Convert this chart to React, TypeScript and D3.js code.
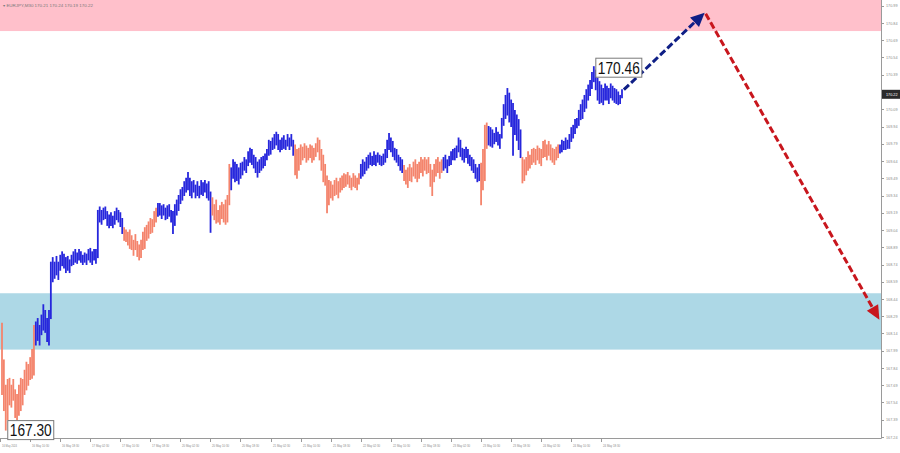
import React from "react";
import * as d3 from "d3";

// ---------- DATA (EURJPY, M30) ----------
const highs = [
  168.23,167.91,167.69,167.74,167.75,167.69,167.74,167.65,167.61,167.69,167.75,167.74,167.82,167.89,167.87,167.93,168.00,168.21,
  168.24,168.27,168.21,168.30,168.39,168.34,168.27,168.34,
  168.76,168.80,168.76,168.81,168.76,168.82,168.85,168.83,168.80,168.81,168.78,168.82,168.85,168.87,168.84,168.87,168.85,168.82,168.84,168.83,168.87,168.88,168.85,168.87,168.87,
  169.21,169.24,169.21,169.23,169.24,169.20,169.17,169.19,169.16,169.20,169.23,169.21,169.19,169.14,
  169.06,169.04,169.02,169.04,168.99,168.95,169.00,168.94,168.91,168.95,169.02,169.06,169.08,169.11,169.14,169.13,169.20,169.23,
  169.27,169.27,169.25,169.26,169.23,169.25,169.26,169.21,169.20,169.26,169.30,169.34,169.39,169.41,169.46,169.49,169.54,169.49,169.46,169.47,169.43,169.46,169.42,169.47,169.45,169.47,169.44,169.46,169.37,
  169.32,169.26,169.30,169.21,169.25,169.28,169.26,169.30,169.34,169.61,
  169.58,169.65,169.63,169.61,169.58,169.62,169.63,169.67,169.65,169.72,169.75,169.74,169.69,169.67,169.63,169.65,169.67,169.68,169.70,169.74,169.82,169.81,169.84,169.87,169.89,169.87,169.82,169.84,169.86,169.82,169.87,169.84,169.87,169.82,
  169.78,169.74,169.75,169.78,169.76,169.79,169.77,169.75,169.78,169.77,169.75,169.79,169.84,169.82,169.74,169.69,169.61,169.51,169.47,169.46,169.43,169.47,169.49,169.46,169.49,169.51,169.53,169.52,169.54,169.51,169.49,169.53,169.51,169.49,169.53,
  169.61,169.65,169.63,169.67,169.69,169.71,169.68,169.72,169.69,169.71,169.69,169.68,169.70,169.74,169.82,169.88,169.84,169.81,169.75,169.74,169.69,169.67,169.65,
  169.60,169.56,169.58,169.61,169.58,169.63,169.65,169.61,169.63,169.67,169.65,169.67,169.65,169.67,169.61,169.56,169.61,169.65,169.67,169.63,169.65,
  169.67,169.69,169.65,169.68,169.72,169.74,169.75,169.77,169.84,169.82,169.75,169.74,169.76,169.74,169.69,169.67,169.65,169.61,169.58,169.61,
  169.62,169.74,169.95,169.97,
  169.94,169.93,169.91,169.88,169.93,169.89,169.87,170.01,170.13,170.21,170.27,170.23,170.17,170.14,170.08,170.04,170.00,169.91,
  169.67,169.65,169.67,169.72,169.69,169.74,169.75,169.74,169.77,169.75,169.74,169.81,169.82,169.78,169.81,169.78,169.75,169.74,169.76,169.78,
  169.78,169.82,169.81,169.84,169.82,169.87,169.93,169.95,170.00,170.01,170.08,170.13,170.17,170.21,170.26,170.30,170.34,170.41,170.46,170.43,170.36,170.33,170.30,170.27,170.31,170.29,170.27,170.31,170.29,170.27,170.26,170.24,170.21,170.26,
];

const lows = [
  167.61,167.47,167.30,167.39,167.52,167.50,167.56,167.41,167.39,167.43,167.47,167.52,167.61,167.65,167.69,167.74,167.75,167.78,
  168.04,168.08,168.04,168.13,168.17,168.15,168.07,168.04,
  168.27,168.59,168.62,168.65,168.61,168.69,168.73,168.71,168.67,168.69,168.67,168.73,168.74,168.76,168.75,168.78,168.76,168.74,168.76,168.74,168.78,168.76,168.74,168.78,168.75,
  168.80,169.11,169.09,169.13,169.14,169.08,169.06,169.08,169.06,169.09,169.13,169.11,169.07,169.01,
  168.95,168.94,168.91,168.88,168.87,168.82,168.87,168.81,168.78,168.80,168.87,168.88,168.95,168.97,169.01,169.02,169.07,169.11,
  169.16,169.17,169.14,169.17,169.13,169.14,169.16,169.11,169.01,169.08,169.17,169.21,169.27,169.30,169.34,169.37,169.39,169.34,169.32,169.37,169.32,169.34,169.32,169.35,169.34,169.37,169.32,169.30,169.02,
  169.17,169.13,169.10,169.11,169.09,169.14,169.11,169.09,169.11,169.26,
  169.39,169.49,169.46,169.47,169.44,169.49,169.52,169.56,169.54,169.60,169.63,169.61,169.58,169.54,169.50,169.54,169.56,169.58,169.60,169.65,169.69,169.70,169.74,169.75,169.78,169.74,169.72,169.74,169.75,169.74,169.77,169.74,169.77,169.69,
  169.52,169.49,169.56,169.61,169.65,169.67,169.63,169.65,169.67,169.63,169.65,169.68,169.72,169.65,169.56,169.46,169.43,169.19,169.26,169.32,169.30,169.34,169.35,169.32,169.37,169.39,169.41,169.42,169.44,169.41,169.39,169.42,169.41,169.39,169.44,
  169.49,169.51,169.53,169.56,169.58,169.61,169.60,169.61,169.60,169.63,169.61,169.60,169.61,169.63,169.67,169.74,169.72,169.68,169.65,169.63,169.60,169.56,169.54,
  169.47,169.44,169.41,169.47,169.46,169.51,169.49,169.46,169.49,169.54,169.51,169.56,169.53,169.54,169.42,169.34,169.46,169.51,169.54,169.49,169.54,
  169.56,169.58,169.54,169.60,169.61,169.65,169.65,169.67,169.72,169.68,169.65,169.63,169.67,169.62,169.60,169.56,169.54,169.49,169.46,169.47,
  169.26,169.39,169.47,169.75,
  169.78,169.77,169.76,169.79,169.81,169.78,169.75,169.84,169.95,170.01,170.04,169.98,169.94,169.69,169.87,169.82,169.74,169.67,
  169.45,169.47,169.52,169.56,169.58,169.61,169.63,169.61,169.65,169.62,169.60,169.67,169.68,169.65,169.69,169.65,169.63,169.61,169.65,169.67,
  169.71,169.72,169.74,169.74,169.75,169.75,169.81,169.84,169.88,169.93,169.95,170.00,170.01,170.07,170.10,170.17,170.21,170.27,170.33,170.26,170.17,170.14,170.15,170.13,170.17,170.17,170.14,170.19,170.17,170.15,170.14,170.13,170.14,170.19,
];

// wave colouring: segment start bar index and colour
const segStarts = [0, 18, 65, 83, 112, 122, 156, 191, 214, 235, 255, 259, 277, 297];
const segColors = ["#f4846c", "#2626dc", "#f4846c", "#2626dc", "#f4846c", "#2626dc", "#f4846c", "#2626dc", "#f4846c", "#2626dc", "#f4846c", "#2626dc", "#f4846c", "#2626dc"];

const xTickLabels = [
  "16 May 2024", "16 May 10:30", "16 May 18:30", "17 May 02:30", "17 May 10:30", "17 May 18:30",
  "20 May 02:30", "20 May 10:30", "20 May 18:30", "21 May 02:30", "21 May 10:30", "21 May 18:30",
  "22 May 02:30", "22 May 10:30", "22 May 18:30", "23 May 02:30", "23 May 10:30", "23 May 18:30",
  "24 May 02:30", "24 May 10:30", "24 May 18:30",
];
const barsPerTick = 16;

const yTickValues = d3.range(0, 26).map((k) => 167.24 + k * 0.15);

const resistanceZone = [170.77, 171.2];
const supportZone = [168.0, 168.49];

// forecast path: [bar index, price]
const forecastIdx = [331, 374, 467];
const forecastPrice = [170.26, 170.93, 168.26];

const lastPrice = 170.22;
const headerText = "\u25BE EURJPY,M30  170.21 170.24 170.19 170.22";

// ---------- LAYOUT ----------
const W = 900;
const H = 453;
const plotRight = 881;
const plotBottom = 438;

export default function App() {
  const x = d3.scaleLinear().domain([0, 330]).range([2, 622]);
  const y = d3.scaleLinear().domain([167.24, 170.99]).range([437, 5.75]);

  const colorAt = (i: number) => {
    let c = segColors[0];
    for (let k = 0; k < segStarts.length; k++) if (i >= segStarts[k]) c = segColors[k];
    return c;
  };

  const n = Math.min(highs.length, lows.length);
  const bars = d3.range(n).map((i) => ({ i, h: highs[i], l: lows[i] }));

  const peakIdx = d3.maxIndex(highs);
  const lowIdx = d3.minIndex(lows);

  const arrow = (x1: number, y1: number, x2: number, y2: number, color: string, key: string) => {
    const ang = Math.atan2(y2 - y1, x2 - x1);
    const len = 14;
    const hw = 6.5;
    const bx = x2 - len * Math.cos(ang);
    const by = y2 - len * Math.sin(ang);
    const px = -Math.sin(ang) * hw;
    const py = Math.cos(ang) * hw;
    const pts = `${x2},${y2} ${bx + px},${by + py} ${bx - px},${by - py}`;
    return (
      <g key={key}>
        <line x1={x1} y1={y1} x2={bx} y2={by} stroke={color} strokeWidth={3} strokeDasharray="7,3" />
        <polygon points={pts} fill={color} />
      </g>
    );
  };

  const fx = forecastIdx.map((v) => x(v));
  const fy = forecastPrice.map((v) => y(v));

  const labelBox = (cx: number, cy: number, text: string, key: string) => (
    <g key={key}>
      <rect x={cx} y={cy - 9.5} width={46} height={19} fill="#fff" stroke="#7a7a7a" strokeWidth={1} />
      <text x={cx + 2} y={cy + 6} fontSize={17} fontFamily="Liberation Sans, Arial, sans-serif" fill="#111" textLength={42} lengthAdjust="spacingAndGlyphs">
        {text}
      </text>
    </g>
  );

  const yLast = y(lastPrice);

  return (
    <svg width={W} height={H} style={{ position: "absolute", left: 0, top: 0, background: "#fff" }} fontFamily="Liberation Sans, Arial, sans-serif">
      <defs>
        <clipPath id="plot">
          <rect x={0} y={0} width={plotRight} height={plotBottom} />
        </clipPath>
      </defs>
      <rect x={0} y={0} width={W} height={H} fill="#fff" />
      <g clipPath="url(#plot)">
        <rect x={0} y={y(resistanceZone[1])} width={plotRight} height={y(resistanceZone[0]) - y(resistanceZone[1])} fill="#ffc0cb" />
        <rect x={0} y={y(supportZone[1])} width={plotRight} height={y(supportZone[0]) - y(supportZone[1])} fill="#add8e6" />
        {bars.map((b) => (
          <line key={b.i} x1={x(b.i)} x2={x(b.i)} y1={y(b.h) - 0.5} y2={y(b.l) + 0.5} stroke={colorAt(b.i)} strokeWidth={1.8} />
        ))}
        {arrow(fx[0], fy[0], fx[1], fy[1], "#0f1f86", "a1")}
        {arrow(fx[1] + 1, fy[1] + 1, fx[2], fy[2], "#c8161d", "a2")}
      </g>

      {/* axes */}
      <line x1={plotRight + 0.5} x2={plotRight + 0.5} y1={0} y2={plotBottom + 0.5} stroke="#9a9a9a" strokeWidth={1} />
      <line x1={0} x2={plotRight + 0.5} y1={plotBottom + 0.5} y2={plotBottom + 0.5} stroke="#9a9a9a" strokeWidth={1} />
      {yTickValues.map((v, k) => {
        const yy = y(v);
        const hidden = Math.abs(yy - yLast) < 7;
        return (
          <g key={"yt" + k}>
            <line x1={plotRight} x2={plotRight + 3} y1={Math.round(yy) + 0.5} y2={Math.round(yy) + 0.5} stroke="#9a9a9a" />
            {!hidden && (
              <text x={plotRight + 5} y={yy + 1.5} fontSize={4.2} fill="#8a8a8a" textLength={11.5} lengthAdjust="spacingAndGlyphs">
                {v.toFixed(2)}
              </text>
            )}
          </g>
        );
      })}
      <rect x={plotRight + 1} y={yLast - 4.5} width={W - plotRight - 1} height={9} fill="#2b2b2b" />
      <text x={plotRight + 5} y={yLast + 1.5} fontSize={4.2} fill="#fff" textLength={11.5} lengthAdjust="spacingAndGlyphs">
        {lastPrice.toFixed(2)}
      </text>

      {xTickLabels.map((t, k) => {
        const xx = Math.round(x(k * barsPerTick)) - 1.5;
        return (
          <g key={"xt" + k}>
            <line x1={xx} x2={xx} y1={plotBottom} y2={plotBottom + 4} stroke="#9a9a9a" />
            <text x={xx + 1.5} y={plotBottom + 9} fontSize={4.2} fill="#8a8a8a" textLength={k === 0 ? 15 : 17} lengthAdjust="spacingAndGlyphs">
              {t}
            </text>
          </g>
        );
      })}

      <text x={3} y={7} fontSize={4.2} fill="#7a7a7a" textLength={90} lengthAdjust="spacingAndGlyphs">
        {headerText}
      </text>

      {labelBox(x(peakIdx) + 2, y(highs[peakIdx]) + 1, highs[peakIdx].toFixed(2), "lbPeak")}
      {labelBox(x(lowIdx) + 2, y(lows[lowIdx]), lows[lowIdx].toFixed(2), "lbLow")}
    </svg>
  );
}
